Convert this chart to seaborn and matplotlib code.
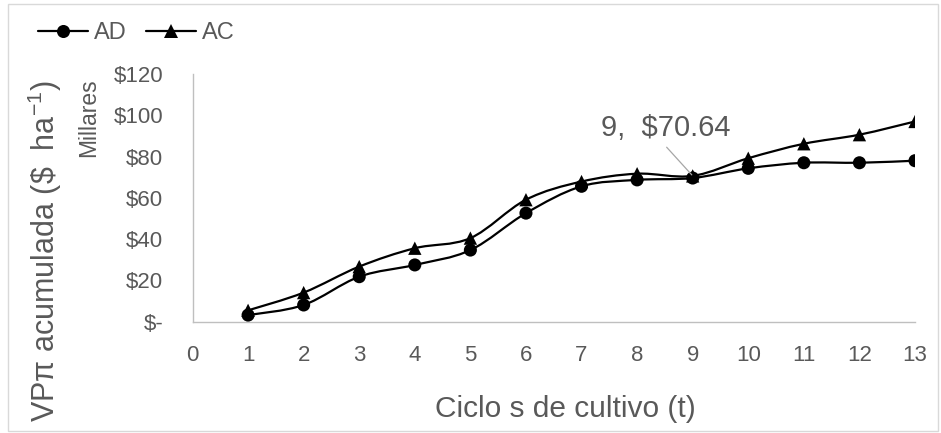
import numpy as np
import matplotlib
matplotlib.use("Agg")
import matplotlib.pyplot as plt
from matplotlib.path import Path
from matplotlib.patches import PathPatch, Rectangle
from matplotlib.lines import Line2D
import seaborn as sns

# Cultivation cycles and accumulated present value (thousands of $ per ha)
ciclos = [1, 2, 3, 4, 5, 6, 7, 8, 9, 10, 11, 12, 13]
vp_ad = [3.2, 8.1, 21.8, 27.5, 34.7, 52.6, 65.6, 68.7, 69.6, 74.3, 77.0, 77.0, 78.0]
vp_ac = [5.5, 14.1, 26.7, 35.6, 40.5, 59.1, 67.9, 71.7, 70.64, 79.2, 86.2, 90.6, 97.0]

x_ticks = list(range(0, 14))
y_ticks = [0, 20, 40, 60, 80, 100, 120]
y_tick_labels = ["\\$-", "\\$20", "\\$40", "\\$60", "\\$80", "\\$100", "\\$120"]

GRAY_TXT = "#595959"
GRAY_AX = "#bfbfbf"

sns.set_theme(style="white")
plt.rcParams["font.family"] = ["Liberation Sans", "DejaVu Sans"]
plt.rcParams["mathtext.fontset"] = "custom"
plt.rcParams["mathtext.rm"] = "Liberation Sans"
plt.rcParams["mathtext.it"] = "Liberation Sans"
plt.rcParams["mathtext.bf"] = "Liberation Sans:bold"

W, H = 941, 433
fig = plt.figure(figsize=(W / 100, H / 100), dpi=100)
fig.patch.set_facecolor("white")

# plot area in pixel terms
x0, x1, y0, y1 = 192.5, 915.0, 321.7, 74.0
ax = fig.add_axes([x0 / W, 1 - y0 / H, (x1 - x0) / W, (y0 - y1) / H])
ax.set_facecolor("white")


def smooth_path(xs, ys):
    """Bezier path through the points, Excel-style smoothed line."""
    pts = np.column_stack([xs, ys]).astype(float)
    n = len(pts)
    verts = [pts[0]]
    codes = [Path.MOVETO]
    for i in range(n - 1):
        p0 = pts[i - 1] if i > 0 else pts[i]
        p1 = pts[i]
        p2 = pts[i + 1]
        p3 = pts[i + 2] if i + 2 < n else pts[i + 1]
        verts += [p1 + (p2 - p0) / 6.0, p2 - (p3 - p1) / 6.0, p2]
        codes += [Path.CURVE4] * 3
    return Path(verts, codes)


for ys in (vp_ad, vp_ac):
    ax.add_patch(PathPatch(smooth_path(ciclos, ys), facecolor="none",
                           edgecolor="black", lw=1.6, zorder=2,
                           capstyle="round", joinstyle="round"))

sns.scatterplot(x=ciclos, y=vp_ad, marker="o", s=9.4 ** 2, color="black",
                edgecolor="none", ax=ax, zorder=3, legend=False)
sns.scatterplot(x=ciclos, y=vp_ac, marker="^", s=9.6 ** 2, color="black",
                edgecolor="none", ax=ax, zorder=3, legend=False)

ax.set_xlim(0, 13)
ax.set_ylim(0, 120)
ax.set_xticks(x_ticks)
ax.set_xticklabels([str(t) for t in x_ticks])
ax.set_yticks(y_ticks)
ax.set_yticklabels(y_tick_labels)
ax.tick_params(axis="both", length=0, labelsize=16, labelcolor=GRAY_TXT)
ax.tick_params(axis="y", pad=21)
ax.tick_params(axis="x", pad=16.5)
ax.set_xlabel("")
ax.set_ylabel("")

for side in ("top", "right"):
    ax.spines[side].set_visible(False)
for side in ("left", "bottom"):
    ax.spines[side].set_color(GRAY_AX)
    ax.spines[side].set_linewidth(1.0)
ax.grid(False)

# data label on the AC point of cycle 9
i9 = ciclos.index(9)
ax.annotate("9,  \\$70.64", xy=(ciclos[i9], vp_ac[i9]), xytext=(-27, 48),
            textcoords="offset pixels", ha="center", va="center",
            fontsize=21, color=GRAY_TXT,
            arrowprops=dict(arrowstyle="-", color="#a6a6a6", lw=0.9,
                            shrinkA=2, shrinkB=1, relpos=(0.47, 0.0)),
            zorder=4)

# axis titles
fig.text(565 / W, 1 - 416.7 / H, "Ciclo s de cultivo (t)", ha="center",
         va="baseline", fontsize=21.5, color=GRAY_TXT)
fig.text(45 / W, 1 - 251.5 / H, "VPπ acumulada (\\$  ha$^{-1}$)", rotation=90,
         ha="center", va="center", fontsize=22, color=GRAY_TXT)
fig.text(89 / W, 1 - 117.5 / H, "Millares", rotation=90, ha="center",
         va="center", fontsize=16.5, color=GRAY_TXT)

# legend
handles = [
    Line2D([], [], color="black", lw=1.6, marker="o", markersize=9.4,
           markeredgewidth=0),
    Line2D([], [], color="black", lw=1.6, marker="^", markersize=9.6,
           markeredgewidth=0),
]
leg = fig.legend(handles, ["AD", "AC"], loc="center left",
                 bbox_to_anchor=(38 / W, 1 - 33 / H), ncol=2, frameon=False,
                 fontsize=17, handlelength=2.1, handletextpad=0.25,
                 columnspacing=0.85, borderpad=0, borderaxespad=0)
for t in leg.get_texts():
    t.set_color(GRAY_TXT)

# chart area border
fig.add_artist(Rectangle((8 / W, 1 - 431 / H), (938 - 8) / W, (431 - 4) / H,
                         transform=fig.transFigure, facecolor="none",
                         edgecolor="#d9d9d9", lw=1.0))

fig.savefig("out.png", dpi=100, facecolor="white")
